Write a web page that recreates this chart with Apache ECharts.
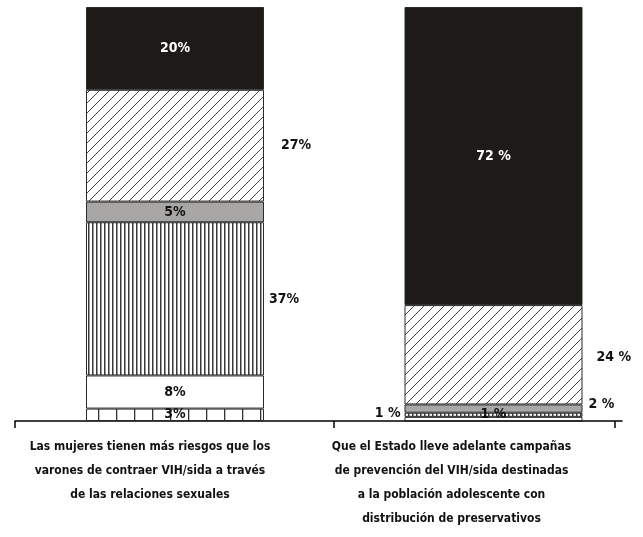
<!DOCTYPE html>
<html><head><meta charset="utf-8">
<script src="https://cdn.jsdelivr.net/npm/echarts@6/dist/echarts.min.js"></script>
<style>html,body{margin:0;padding:0;background:#fff}#c{width:643px;height:537px}</style>
</head><body><div id="c"></div>
<script>
// ---- data ----
const categories = [
  'Las mujeres tienen más riesgos que los\nvarones de contraer VIH/sida a través\nde las relaciones sexuales',
  'Que el Estado lleve adelante campañas\nde prevención del VIH/sida destinadas\na la población adolescente con\ndistribución de preservativos'
];
const segmentNames = ['Seg A', 'Seg B', 'Seg C', 'Seg D', 'Seg E', 'Seg F'];
const valuesA = [3, 0];   // short ticks (bottom)
const valuesB = [8, 1];   // white
const valuesC = [37, 1];  // vertical stripes
const valuesD = [5, 2];   // gray
const valuesE = [27, 24]; // diagonal hatch
const valuesF = [20, 72]; // black (top)
const labelSuffix = ['%', ' %'];

// ---- styles ----
const FONT = "'Liberation Sans Narrow','Arial Narrow','DejaVu Sans Condensed',sans-serif";
function mk(w, h, draw) { const c = document.createElement('canvas'); c.width = w; c.height = h; const g = c.getContext('2d'); g.fillStyle = '#fff'; g.fillRect(0, 0, w, h); draw(g); return { image: c, repeat: 'repeat' }; }
const patTicks = mk(18, 10, g => { g.fillStyle = '#333'; g.fillRect(8, 0, 1.3, 10); });
const patStripes = mk(4, 4, g => { g.fillStyle = '#3a3a3a'; g.fillRect(0, 0, 1, 4); g.fillStyle = '#999'; g.fillRect(1, 0, 1, 4); });
const patHatch = mk(10, 10, g => {
  g.strokeStyle = '#444'; g.lineWidth = 1;
  for (let k = -10; k <= 20; k += 10) { g.beginPath(); g.moveTo(k, 10); g.lineTo(k + 10, 0); g.stroke(); }
});

const fills = [patTicks, '#ffffff', patStripes, '#a9a7a5', patHatch, '#1e1a18'];
const allValues = [valuesA, valuesB, valuesC, valuesD, valuesE, valuesF];
const layouts = [
  [{ position: 'inside', offset: [0, 0] }, null],
  [{ position: 'inside' }, { position: 'inside', offset: [0, -5] }],
  [{ position: 'right', distance: 5 }, { position: 'left', distance: 4, offset: [0, -1] }],
  [{ position: 'inside' }, { position: 'right', distance: 6, offset: [0, -4] }],
  [{ position: 'right', distance: 17 }, { position: 'right', distance: 14, offset: [0, 3] }],
  [{ position: 'inside', color: '#fff' }, { position: 'inside', color: '#fff' }]
];

const series = allValues.map((vals, si) => ({
  name: segmentNames[si], type: 'bar', stack: 'total', barWidth: 178, clip: false,
  xAxisIndex: 0, yAxisIndex: 0,
  itemStyle: { color: fills[si], borderColor: '#2a2a2a', borderWidth: 1 },
  data: vals.map((v, ci) => {
    const lay = layouts[si][ci];
    return {
      value: v,
      label: lay ? Object.assign({ show: true, color: '#111', fontFamily: FONT, fontWeight: 'bold', fontSize: 14,
        formatter: () => v + labelSuffix[ci] }, lay) : { show: false }
    };
  })
}));

const chart = echarts.init(document.getElementById('c'), null, { renderer: 'canvas' });
chart.setOption({
  animation: false,
  backgroundColor: '#fff',
  grid: [
    { left: 175, right: 149.5, top: 7, bottom: 116, containLabel: false, outerBoundsMode: 'none' },
    { left: 15, right: 21, top: 7, bottom: 116, containLabel: false, outerBoundsMode: 'none' }
  ],
  xAxis: [
    { type: 'category', gridIndex: 0, data: categories, boundaryGap: false,
      axisLine: { show: false }, axisTick: { show: false },
      axisLabel: { margin: 14, interval: 0,
        formatter: (val, idx) => val.split('\n').map(l => '{s' + idx + '|' + l + '}').join('\n'),
        rich: {
          s0: { fontFamily: FONT, fontWeight: 'bold', fontSize: 12, color: '#111', lineHeight: 24, padding: [0, 50, 0, 0] },
          s1: { fontFamily: FONT, fontWeight: 'bold', fontSize: 12, color: '#111', lineHeight: 24, padding: [0, 84, 0, 0] }
        } } },
    { type: 'value', gridIndex: 1, min: 0, max: 607,
      axisLine: { show: true, lineStyle: { color: '#000', width: 1.5 } },
      axisTick: { show: true, length: 7, customValues: [0, 319, 600], lineStyle: { color: '#000', width: 1.5 } },
      axisLabel: { show: false }, splitLine: { show: false } }
  ],
  yAxis: [
    { type: 'value', gridIndex: 0, min: 0, max: 100, show: false },
    { type: 'value', gridIndex: 1, min: 0, max: 100, show: false }
  ],
  series: series
});
</script></body></html>
